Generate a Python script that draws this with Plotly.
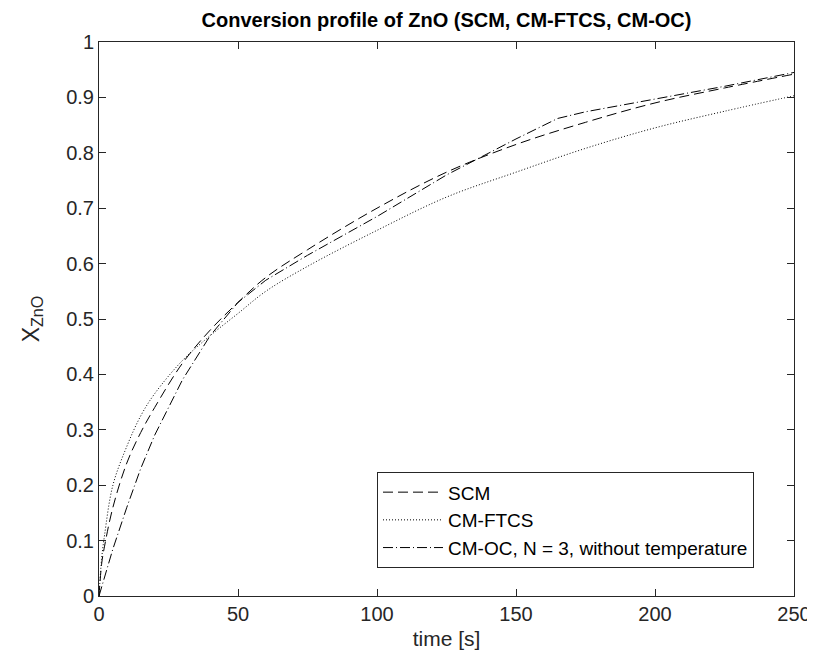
import plotly.graph_objects as go

t_scm = [0, 1, 2, 5, 10, 15, 20, 30, 40, 50, 60, 75, 100, 125, 150, 175, 200, 225, 250]
x_scm = [0, 0.06, 0.09, 0.16, 0.24, 0.295, 0.34, 0.42, 0.48, 0.53, 0.575, 0.625, 0.70, 0.765, 0.815, 0.855, 0.89, 0.917, 0.942]

t_ftcs = [0, 1, 2, 5, 10, 15, 20, 30, 40, 50, 60, 75, 100, 125, 150, 175, 200, 225, 250]
x_ftcs = [0, 0.07, 0.11, 0.20, 0.27, 0.325, 0.365, 0.425, 0.47, 0.51, 0.55, 0.595, 0.66, 0.72, 0.765, 0.808, 0.845, 0.875, 0.903]

t_oc = [0, 2, 5, 10, 15, 20, 30, 40, 50, 60, 75, 100, 125, 150, 165, 175, 200, 225, 250]
x_oc = [0, 0.035, 0.085, 0.16, 0.23, 0.29, 0.39, 0.47, 0.53, 0.57, 0.615, 0.685, 0.76, 0.825, 0.862, 0.874, 0.897, 0.92, 0.945]

names = ["SCM", "CM-FTCS", "CM-OC, N = 3, without temperature"]

FONT = "Liberation Sans, Arial"

fig = go.Figure()
fig.add_trace(go.Scatter(x=t_scm, y=x_scm, mode="lines", name=names[0], line_shape="spline",
                         line=dict(color="black", width=1, dash="10px,5px")))
fig.add_trace(go.Scatter(x=t_ftcs, y=x_ftcs, mode="lines", name=names[1], line_shape="spline",
                         line=dict(color="black", width=1, dash="1px,2px")))
fig.add_trace(go.Scatter(x=t_oc, y=x_oc, mode="lines", name=names[2],
                         line=dict(color="black", width=1, dash="10px,3px,1px,3px")))

axis_common = dict(showgrid=False, zeroline=False, showline=True, linecolor="#262626", linewidth=1,
                   mirror="ticks", ticks="inside", ticklen=7, tickcolor="#262626",
                   tickfont=dict(family=FONT, size=20, color="#262626"))

fig.update_layout(
    width=815, height=663,
    paper_bgcolor="white", plot_bgcolor="white",
    margin=dict(l=91, r=21, t=34, b=75),
    title=dict(text="<b>Conversion profile of ZnO (SCM, CM-FTCS, CM-OC)</b>", x=0.5, xanchor="center",
               xref="paper", y=0.993, yanchor="top",
               font=dict(family=FONT, size=20, color="black")),
    xaxis=dict(range=[0, 250], tickvals=[0, 50, 100, 150, 200, 250],
               title=dict(text="time [s]", font=dict(family=FONT, size=21, color="#262626"), standoff=7),
               **axis_common),
    yaxis=dict(range=[0, 1], tickvals=[0, 0.1, 0.2, 0.3, 0.4, 0.5, 0.6, 0.7, 0.8, 0.9, 1],
               ticktext=["0", "0.1", "0.2", "0.3", "0.4", "0.5", "0.6", "0.7", "0.8", "0.9", "1"],
               title=dict(text="X<sub>ZnO</sub>", font=dict(family=FONT, size=23, color="#262626"), standoff=20),
               **axis_common),
    legend=dict(x=0.4, y=0.05, xanchor="left", yanchor="bottom", bgcolor="white",
                bordercolor="#262626", borderwidth=1,
                font=dict(family=FONT, size=19, color="black"),
                tracegroupgap=0, itemwidth=60),
    showlegend=True,
)

fig.write_html("out.html")
